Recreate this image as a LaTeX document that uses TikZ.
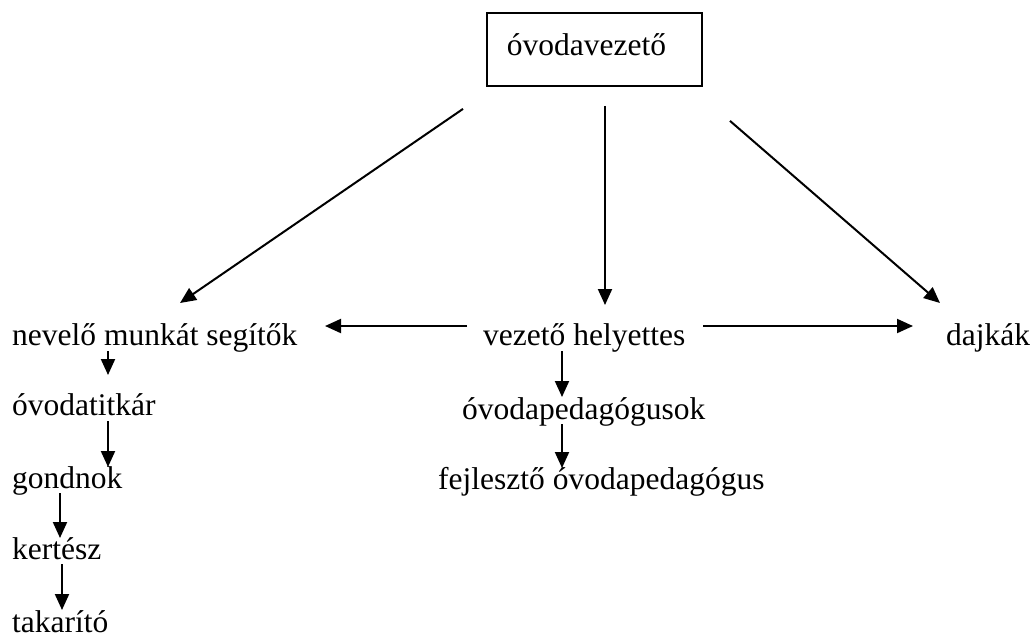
\documentclass[tikz,border=0pt]{standalone}
\usepackage{fontspec}
\setmainfont{Liberation Serif}
\usetikzlibrary{arrows.meta}
\begin{document}
\begin{tikzpicture}[x=1pt,y=-1pt,
  txt/.style={font=\fontsize{31.5}{38}\selectfont},
  lbl/.style={txt,anchor=base west,inner sep=0pt},
  arr/.style={line width=2pt,-{Triangle[length=16pt,width=14pt]}}]
\useasboundingbox (0,0) rectangle (1035,641);
% boxed head
\node[txt,draw,line width=1.8pt,minimum width=215pt,minimum height=73pt,inner sep=0pt,
      text height=20pt,text depth=8pt] (boss) at (594.5,49.5) {óvodavezető\hspace*{16pt}};
% second row
\node[lbl] (nev) at (12,345) {nevelő munkát segítők};
\node[lbl] (vez) at (483,345) {vezető helyettes};
\node[lbl] (daj) at (946,345) {dajkák};
% left column
\node[lbl] (ovt) at (12,415) {óvodatitkár};
\node[lbl] (gon) at (12,488) {gondnok};
\node[lbl] (ker) at (12,559) {kertész};
\node[lbl] (tak) at (12,632) {takarító};
% middle column
\node[lbl] (ovp) at (462,419) {óvodapedagógusok};
\node[lbl] (fej) at (438,489) {fejlesztő óvodapedagógus};
% arrows from the head
\draw[arr] ([shift={(-131.5,22)}]boss.south) -- ([shift={(168,-42)}]nev.base west);
\draw[arr] ([shift={(10.5,19)}]boss.south) -- ([shift={(122,-40)}]vez.base west);
\draw[arr] ([shift={(135.5,34)}]boss.south) -- ([shift={(-6,-42)}]daj.base west);
% horizontal arrows
\draw[arr] ([shift={(-16,-19)}]vez.base west) -- ([shift={(313,-19)}]nev.base west);
\draw[arr] ([shift={(220,-19)}]vez.base west) -- ([shift={(-33,-19)}]daj.base west);
% left column arrows
\draw[arr] ([shift={(96,6)}]nev.base west) -- ([shift={(96,-40)}]ovt.base west);
\draw[arr] ([shift={(96,6)}]ovt.base west) -- ([shift={(96,-21)}]gon.base west);
\draw[arr] ([shift={(48,5)}]gon.base west) -- ([shift={(48,-21)}]ker.base west);
\draw[arr] ([shift={(50,5)}]ker.base west) -- ([shift={(50,-22)}]tak.base west);
% middle column arrows
\draw[arr] ([shift={(79,6)}]vez.base west) -- ([shift={(100,-22)}]ovp.base west);
\draw[arr] ([shift={(100,5)}]ovp.base west) -- ([shift={(124,-21)}]fej.base west);
\end{tikzpicture}
\end{document}
